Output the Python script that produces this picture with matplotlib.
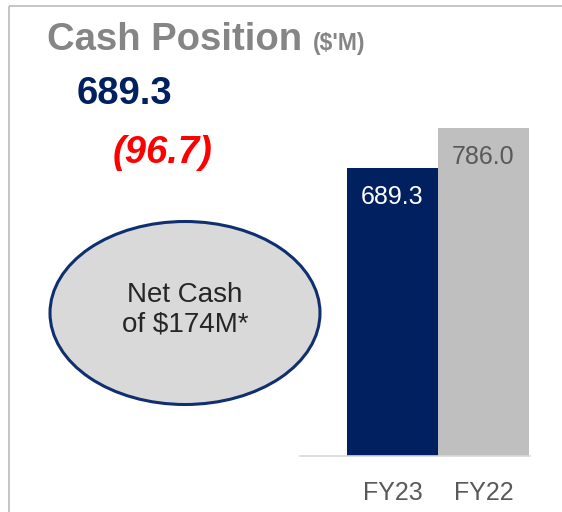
import matplotlib
matplotlib.use("Agg")
import matplotlib.pyplot as plt
from matplotlib.patches import Ellipse

plt.rcParams['font.family'] = ['Liberation Sans', 'DejaVu Sans']

# Data
categories = ["FY23", "FY22"]
values = [689.3, 786.0]
bar_colors = ["#002060", "#bfbfbf"]
label_colors = ["#ffffff", "#595959"]
value_labels = ["689.3", "786.0"]
title = "Cash Position"
unit = "($'M)"
headline = "689.3"
change = "(96.7)"
callout = "Net Cash\nof $174M*"

W, H = 562, 512
fig = plt.figure(figsize=(W / 100, H / 100), dpi=100)

# overlay axes in pixel coordinates
ov = fig.add_axes([0, 0, 1, 1])
ov.set_xlim(0, W)
ov.set_ylim(H, 0)
ov.axis('off')

# frame lines
ov.plot([9, W], [6, 6], color="#c0c0c0", lw=1.3, solid_capstyle='butt')
ov.plot([9, 9], [6, H], color="#c0c0c0", lw=1.3, solid_capstyle='butt')

ov.text(47, 50, title, fontsize=27.5, fontweight='bold', color="#858585",
        ha='left', va='baseline')
ov.text(313, 50, unit, fontsize=16.5, fontweight='bold', color="#858585",
        ha='left', va='baseline')
ov.text(77, 104, headline, fontsize=27.5, fontweight='bold', color="#002060",
        ha='left', va='baseline')
ov.text(113, 163, change, fontsize=27.5, fontweight='bold', style='italic',
        color="#ff0000", ha='left', va='baseline')

ell = Ellipse((185, 313), 270, 183, facecolor="#d9d9d9", edgecolor="#0f2f6e",
              lw=2.2)
ov.add_patch(ell)
ov.text(185, 310, callout, fontsize=20, color="#262626", ha='center',
        va='center', linespacing=1.15)

# bar axes: x from 300 to 530 px, y baseline 456, top 100
left_px, right_px = 300, 530
bot_px, top_px = 456, 100
ax = fig.add_axes([left_px / W, (H - bot_px) / H, (right_px - left_px) / W,
                   (bot_px - top_px) / H])
ax.patch.set_alpha(0)
x = list(range(len(categories)))
bars = ax.bar(x, values, width=1.0, color=bar_colors, edgecolor='none')
ppu = 91.0
ax.set_xlim(-0.5 - (347 - left_px) / ppu, -0.5 - (347 - left_px) / ppu + (right_px - left_px) / ppu)
ax.set_ylim(0, values[1] * (bot_px - top_px) / (bot_px - 127.7))
for s in ['top', 'right', 'left']:
    ax.spines[s].set_visible(False)
ax.spines['bottom'].set_color("#d9d9d9")
ax.spines['bottom'].set_linewidth(1.2)
ax.set_yticks([])
ax.set_xticks(x)
ax.set_xticklabels(categories, fontsize=18, color="#595959")
ax.tick_params(axis='x', length=0, pad=18)

for xi, v, lab, c in zip(x, values, value_labels, label_colors):
    ax.annotate(lab, (xi, v), xytext=(0, -21), textcoords='offset points',
                ha='center', va='center', fontsize=18, color=c)

fig.savefig("out.png", dpi=100)
